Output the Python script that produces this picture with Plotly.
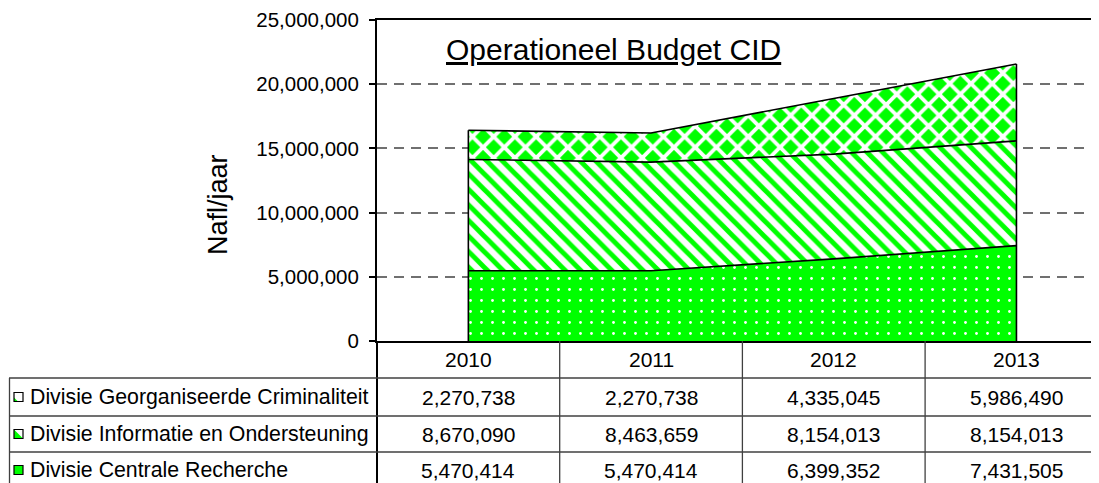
import plotly.graph_objects as go

# ---------------- data ----------------
years = ["2010", "2011", "2012", "2013"]
series_names = [
    "Divisie Georganiseerde Criminaliteit",
    "Divisie Informatie en Ondersteuning",
    "Divisie Centrale Recherche",
]
georganiseerde = [2270738, 2270738, 4335045, 5986490]
informatie = [8670090, 8463659, 8154013, 8154013]
centrale = [5470414, 5470414, 6399352, 7431505]
y_ticks = [0, 5000000, 10000000, 15000000, 20000000, 25000000]
title_text = "Operationeel Budget CID"
y_title = "Nafl/jaar"

# ---------------- layout helpers (screen pixels) ----------------
OFF = 8                      # page body margin
SW, SH = 1099, 483           # screen size
W, H = SW - OFF, SH - OFF    # figure size
L_S, T_S, B_S = 377, 20, 341  # plot area in screen pixels
L, T = L_S - OFF, T_S - OFF
PW = SW - L_S
PH = B_S - T_S
COL_W = 182.7
FONT = "Liberation Sans, Arial, sans-serif"
GREEN = "#00FF00"


def X(px):
    return (px - L_S) / PW


def Y(py):
    return (B_S - py) / PH


xs = list(range(len(years)))
fig = go.Figure()

fig.add_trace(go.Scatter(
    x=xs, y=centrale, name=series_names[2], stackgroup="s", mode="lines",
    line=dict(color="black", width=1.6),
    fillcolor=GREEN,
    fillpattern=dict(shape=".", fgcolor="white", bgcolor=GREEN, size=11, solidity=0.05,
                     fgopacity=1, fillmode="replace"),
))
fig.add_trace(go.Scatter(
    x=xs, y=informatie, name=series_names[1], stackgroup="s", mode="lines",
    line=dict(color="black", width=1.6),
    fillcolor=GREEN,
    fillpattern=dict(shape="\\", fgcolor=GREEN, bgcolor="white", size=11, solidity=0.45,
                     fgopacity=1, fillmode="replace"),
))
fig.add_trace(go.Scatter(
    x=xs, y=georganiseerde, name=series_names[0], stackgroup="s", mode="lines",
    line=dict(color="black", width=1.6),
    fillcolor=GREEN,
    fillpattern=dict(shape="x", fgcolor="white", bgcolor=GREEN, size=15, solidity=0.45,
                     fgopacity=1, fillmode="replace"),
))

totals = [a + b + c for a, b, c in zip(centrale, informatie, georganiseerde)]
fig.add_trace(go.Scatter(
    x=[xs[0], xs[0], None, xs[-1], xs[-1]],
    y=[0, totals[0], None, 0, totals[-1]],
    mode="lines", line=dict(color="black", width=1.6), hoverinfo="skip",
))

x_max = -0.5 + PW / COL_W

fig.update_layout(
    width=W, height=H, autosize=False,
    margin=dict(l=L, r=0, t=T, b=H - (B_S - OFF), pad=0),
    paper_bgcolor="white", plot_bgcolor="white",
    showlegend=False,
    font=dict(family=FONT, size=20, color="black"),
    xaxis=dict(
        range=[-0.5, x_max], showticklabels=False, ticks="", showgrid=False,
        zeroline=False, showline=True, linecolor="black", linewidth=2, mirror=True,
    ),
    yaxis=dict(
        range=[0, 25000000], tickvals=y_ticks, tickformat=",d",
        ticks="outside", ticklen=6, tickwidth=1.5, tickcolor="black",
        showline=True, linecolor="black", linewidth=2,
        showgrid=True, gridcolor="#707070", gridwidth=1.5, griddash="10px,7px",
        zeroline=False, tickfont=dict(size=20.5, family=FONT),
        ticklabelstandoff=6,
    ),
)

shapes = []
annotations = []

annotations.append(dict(
    text="<u>" + title_text + "</u>", x=X(613), y=Y(49), xref="paper", yref="paper",
    showarrow=False, font=dict(size=30, family=FONT), xanchor="center", yanchor="middle",
))
annotations.append(dict(
    text=y_title, x=X(218), y=Y(205), xref="paper", yref="paper", textangle=-90,
    showarrow=False, font=dict(size=27, family=FONT), xanchor="center", yanchor="middle",
))

# ---------------- data table ----------------
row_lines = [378, 416, 452]
row_centers = [397, 434, 470]
header_center = 359
line_col = "#404040"
TS = 21

shapes.append(dict(type="line", xref="paper", yref="paper", x0=0, x1=0,
                   y0=Y(B_S), y1=Y(SH), line=dict(color="black", width=2)))
for i in range(1, len(years)):
    shapes.append(dict(type="line", xref="x", yref="paper", x0=i - 0.5, x1=i - 0.5,
                       y0=Y(B_S), y1=Y(SH), line=dict(color=line_col, width=1.3)))
shapes.append(dict(type="line", xref="paper", yref="paper", x0=X(9.5), x1=X(9.5),
                   y0=Y(row_lines[0]), y1=Y(SH), line=dict(color=line_col, width=1.3)))
for ry in row_lines:
    shapes.append(dict(type="line", xref="paper", yref="paper", x0=X(9), x1=1,
                       y0=Y(ry), y1=Y(ry), line=dict(color=line_col, width=1.3)))

for i, yr in enumerate(years):
    annotations.append(dict(text=yr, x=i, y=Y(header_center), xref="x", yref="paper",
                            showarrow=False, xanchor="center", yanchor="middle",
                            font=dict(size=TS, family=FONT)))

rows = [georganiseerde, informatie, centrale]
for r, (name, vals) in enumerate(zip(series_names, rows)):
    cy = row_centers[r]
    annotations.append(dict(text=name, x=X(28), y=Y(cy), xref="paper", yref="paper",
                            showarrow=False, xanchor="left", yanchor="middle",
                            font=dict(size=21.3, family=FONT)))
    for i, v in enumerate(vals):
        annotations.append(dict(text=f"{v:,}", x=i, y=Y(cy), xref="x", yref="paper",
                                showarrow=False, xanchor="center", yanchor="middle",
                                font=dict(size=TS, family=FONT)))
    kx0, kx1 = 14, 23
    ky0, ky1 = cy - 4.5, cy + 4.5
    if r == 0:
        shapes.append(dict(type="path", xref="paper", yref="paper",
                           path=f"M {X(kx0)},{Y(ky1)} L {X(kx0)},{Y(ky1-4)} L {X(kx0+4)},{Y(ky1)} Z",
                           fillcolor=GREEN, line=dict(width=0)))
        shapes.append(dict(type="rect", xref="paper", yref="paper", x0=X(kx0), x1=X(kx1),
                           y0=Y(ky1), y1=Y(ky0), fillcolor="rgba(0,0,0,0)",
                           line=dict(color="black", width=1.2)))
    elif r == 1:
        shapes.append(dict(type="path", xref="paper", yref="paper",
                           path=f"M {X(kx0)},{Y(ky1)} L {X(kx0)},{Y(ky0)} L {X(kx1)},{Y(ky1)} Z",
                           fillcolor=GREEN, line=dict(width=0)))
        shapes.append(dict(type="rect", xref="paper", yref="paper", x0=X(kx0), x1=X(kx1),
                           y0=Y(ky1), y1=Y(ky0), fillcolor="rgba(0,0,0,0)",
                           line=dict(color="black", width=1.2)))
    else:
        shapes.append(dict(type="rect", xref="paper", yref="paper", x0=X(kx0), x1=X(kx1),
                           y0=Y(ky1), y1=Y(ky0), fillcolor=GREEN,
                           line=dict(color="black", width=1.2)))

fig.update_layout(shapes=shapes, annotations=annotations)
fig.write_html("out.html")
